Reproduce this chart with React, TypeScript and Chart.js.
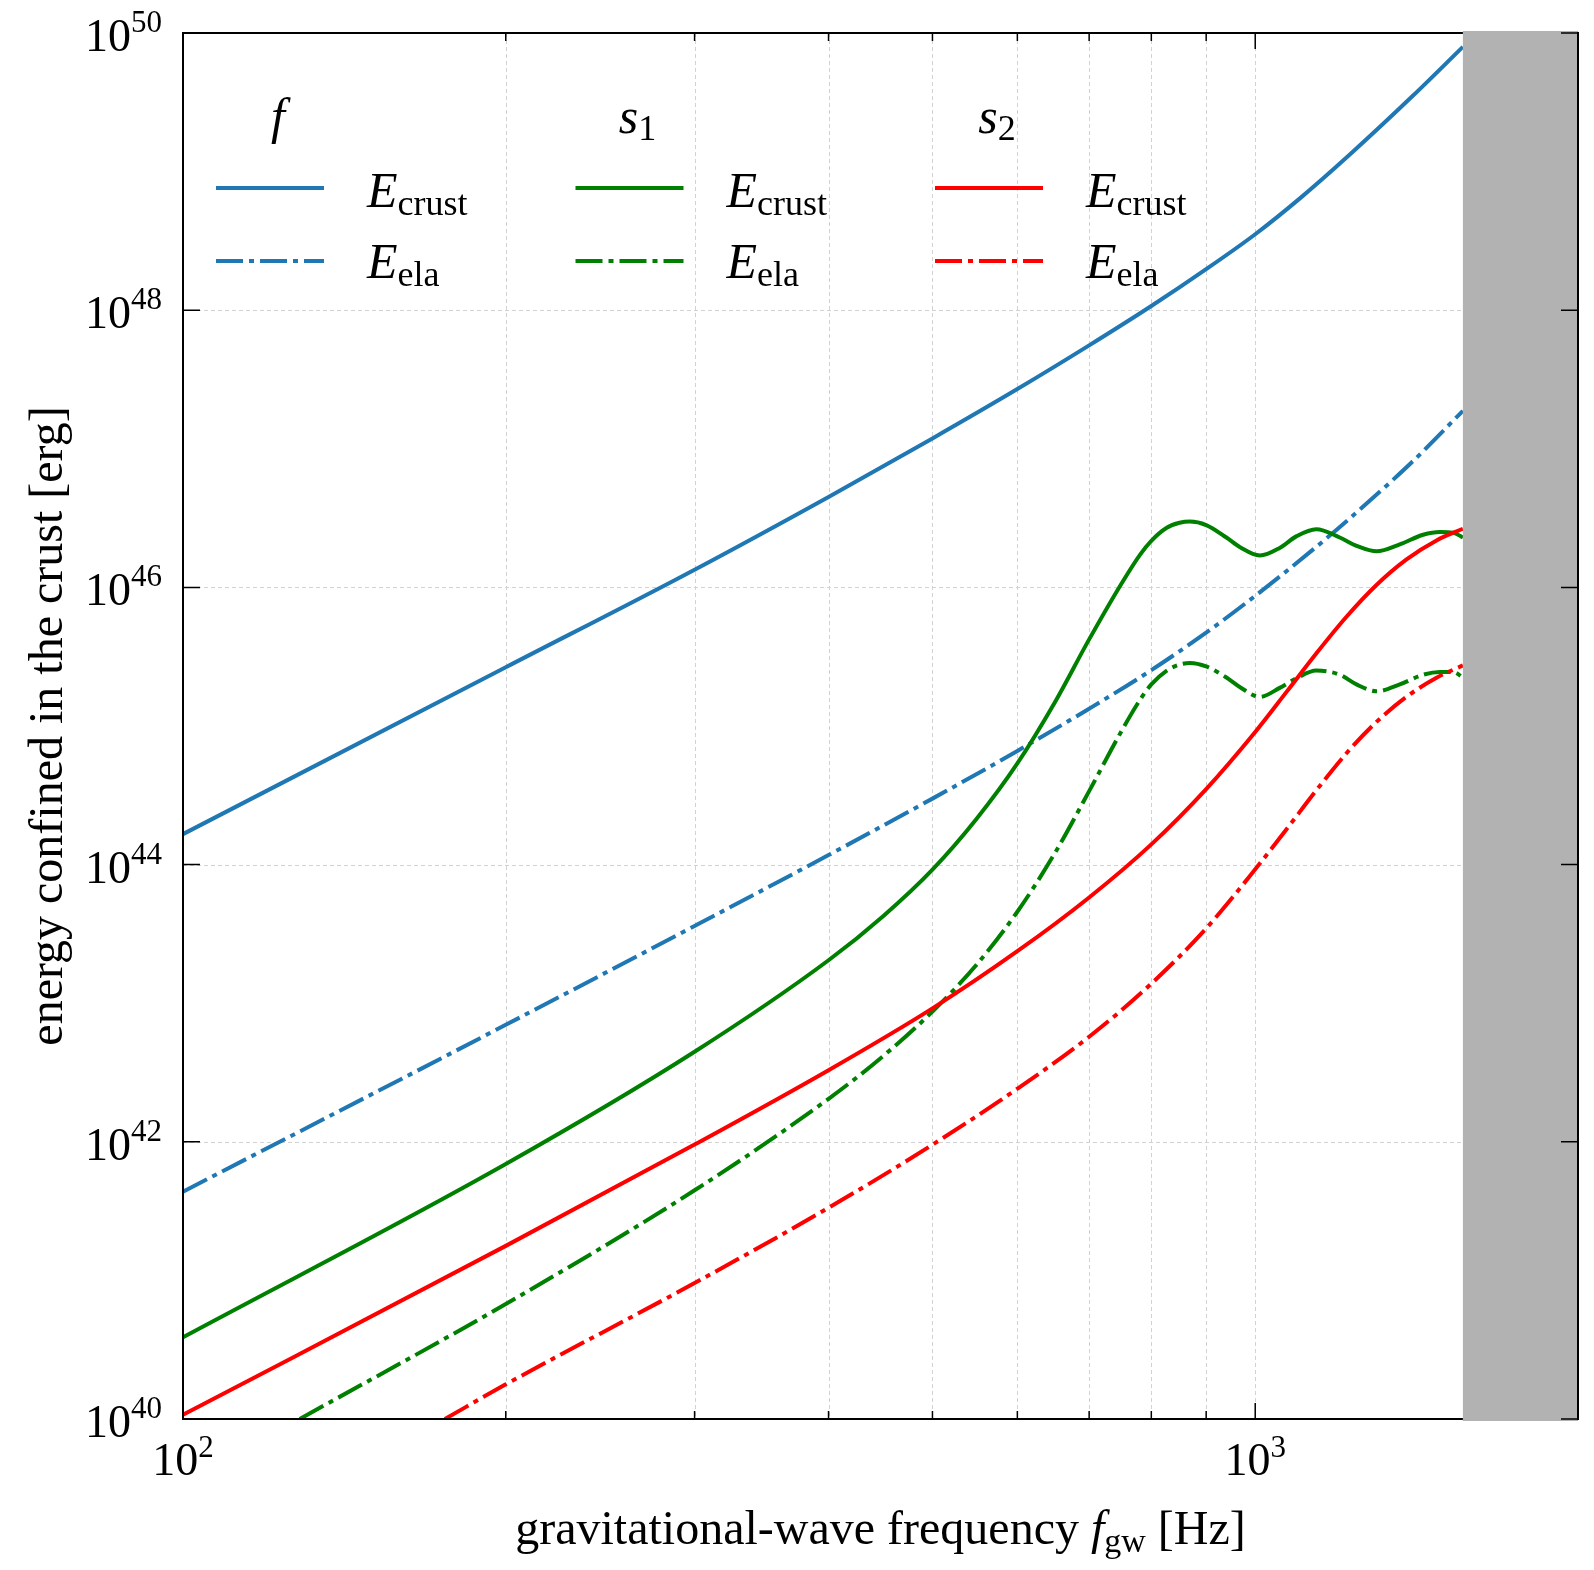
import React, { useEffect, useRef } from "react";
import { Chart, registerables } from "chart.js";

Chart.register(...registerables);

const SERIF = '"Liberation Serif", "DejaVu Serif", serif';

// Axis ranges
const xMin = 100;
const xMax = 2000;
const yMinExp = 40;
const yMaxExp = 50;
const grayStartFreq = 1562;

// Ticks / grid
const xGridFreqs = [100, 200, 300, 400, 500, 600, 700, 800, 900, 1000, 2000];
const xMajorFreqs = [100, 1000];
const xLabelExps = [2, 3];
const yTickExps = [40, 42, 44, 46, 48, 50];

// f-mode (log10 of energy in erg)
const fCrustFreq = [100, 200, 300, 400, 500, 600, 700, 800, 900, 1000, 1100, 1226, 1402, 1562];
const fCrustLogE = [44.22, 45.424, 46.128, 46.653, 47.075, 47.431, 47.746, 48.03, 48.296, 48.548, 48.805, 49.125, 49.545, 49.9];
const fElaFreq = [100, 200, 300, 400, 500, 600, 700, 800, 900, 1000, 1140, 1226, 1335, 1402, 1562];
const fElaLogE = [41.64, 42.844, 43.557, 44.069, 44.476, 44.82, 45.125, 45.403, 45.674, 45.939, 46.292, 46.5, 46.755, 46.908, 47.274];

// s1-mode
const s1CrustFreq = [100, 200, 300, 400, 450, 500, 550, 600, 650, 700, 750, 781, 800, 827, 850, 869, 900, 940, 968, 1010, 1054, 1093, 1140, 1199, 1243, 1298, 1364, 1434, 1487, 1530, 1562];
const s1CrustLogE = [40.59, 41.84, 42.65, 43.31, 43.63, 43.964, 44.333, 44.73, 45.168, 45.625, 46.025, 46.237, 46.336, 46.43, 46.466, 46.475, 46.45, 46.36, 46.29, 46.23, 46.285, 46.37, 46.42, 46.36, 46.3, 46.26, 46.31, 46.38, 46.4, 46.395, 46.36];
const s1ElaFreq = [128.5, 200, 300, 400, 450, 500, 550, 600, 650, 700, 750, 781, 800, 827, 850, 869, 900, 940, 968, 1010, 1054, 1093, 1140, 1199, 1243, 1298, 1364, 1434, 1487, 1530, 1562];
const s1ElaLogE = [40.0, 40.83, 41.65, 42.31, 42.62, 42.94, 43.28, 43.66, 44.08, 44.53, 44.96, 45.19, 45.3, 45.4, 45.443, 45.455, 45.43, 45.35, 45.28, 45.21, 45.275, 45.345, 45.4, 45.37, 45.3, 45.25, 45.3, 45.37, 45.39, 45.39, 45.35];

// s2-mode
const s2CrustFreq = [100, 200, 300, 400, 500, 600, 700, 800, 900, 1000, 1070, 1140, 1217, 1296, 1384, 1476, 1562];
const s2CrustLogE = [40.03, 41.249, 41.98, 42.517, 42.963, 43.375, 43.763, 44.146, 44.545, 44.957, 45.248, 45.523, 45.79, 46.014, 46.202, 46.339, 46.423];
const s2ElaFreq = [175.5, 200, 300, 400, 500, 600, 700, 800, 900, 1000, 1070, 1140, 1217, 1296, 1384, 1476, 1562];
const s2ElaLogE = [40.0, 40.25, 40.981, 41.524, 41.979, 42.383, 42.758, 43.141, 43.54, 43.966, 44.257, 44.535, 44.805, 45.026, 45.211, 45.348, 45.437];

// Legend text
const legendGroups = [
  { title: "f", sub: "" },
  { title: "s", sub: "1" },
  { title: "s", sub: "2" },
];
const legendRows = ["crust", "ela"];

const BLUE = "#1f77b4";
const GREEN = "#008000";
const RED = "#ff0000";
const GRAY = "#b2b2b2";
const GRID = "#d2d2d2";
const DASH = [27, 6, 5, 6];
const LINE_W = 4;
const groupColors = [BLUE, GREEN, RED];

type Part = { t: string; font: string; dy: number };

function drawParts(ctx: CanvasRenderingContext2D, parts: Part[], x: number, y: number, align: "left" | "center" | "right") {
  let total = 0;
  const widths = parts.map((p) => {
    ctx.font = p.font;
    const w = ctx.measureText(p.t).width;
    total += w;
    return w;
  });
  let cx = align === "left" ? x : align === "center" ? x - total / 2 : x - total;
  ctx.textAlign = "left";
  ctx.textBaseline = "alphabetic";
  parts.forEach((p, i) => {
    ctx.font = p.font;
    ctx.fillText(p.t, cx, y + p.dy);
    cx += widths[i];
  });
}

const decorPlugin = {
  id: "decor",
  beforeDatasetsDraw(chart: any) {
    const { ctx, chartArea: a } = chart;
    const xs = chart.scales.x;
    const ys = chart.scales.y;
    ctx.save();
    ctx.strokeStyle = GRID;
    ctx.lineWidth = 1;
    ctx.setLineDash([4, 3]);
    for (const f of xGridFreqs) {
      const px = Math.round(xs.getPixelForValue(f)) + 0.5;
      ctx.beginPath();
      ctx.moveTo(px, a.top);
      ctx.lineTo(px, a.bottom);
      ctx.stroke();
    }
    for (const e of yTickExps) {
      const py = Math.round(ys.getPixelForValue(Math.pow(10, e))) + 0.5;
      ctx.beginPath();
      ctx.moveTo(a.left, py);
      ctx.lineTo(a.right, py);
      ctx.stroke();
    }
    ctx.restore();
  },
  afterDatasetsDraw(chart: any) {
    const { ctx, chartArea: a } = chart;
    const xs = chart.scales.x;
    const ys = chart.scales.y;
    const gx = xs.getPixelForValue(grayStartFreq);
    ctx.save();
    ctx.setLineDash([]);

    // excluded region
    ctx.fillStyle = GRAY;
    ctx.fillRect(gx, a.top - 2, a.right - gx, a.bottom - a.top + 4);

    // frame
    ctx.strokeStyle = "#000";
    ctx.lineWidth = 2;
    ctx.beginPath();
    ctx.moveTo(gx, a.top);
    ctx.lineTo(a.left, a.top);
    ctx.lineTo(a.left, a.bottom);
    ctx.lineTo(gx, a.bottom);
    ctx.moveTo(a.right, a.top - 1);
    ctx.lineTo(a.right, a.bottom + 1);
    ctx.stroke();

    // ticks
    ctx.lineWidth = 1.5;
    ctx.beginPath();
    for (const f of xGridFreqs) {
      const px = xs.getPixelForValue(f);
      const len = xMajorFreqs.includes(f) ? 16 : 8;
      ctx.moveTo(px, a.bottom);
      ctx.lineTo(px, a.bottom - len);
      ctx.moveTo(px, a.top);
      ctx.lineTo(px, a.top + len);
    }
    for (const e of yTickExps) {
      const py = ys.getPixelForValue(Math.pow(10, e));
      ctx.moveTo(a.left, py);
      ctx.lineTo(a.left + 17, py);
      ctx.moveTo(a.right, py);
      ctx.lineTo(a.right - 17, py);
    }
    ctx.stroke();

    // tick labels
    ctx.fillStyle = "#000";
    const baseFont = `46px ${SERIF}`;
    const expFont = `31px ${SERIF}`;
    for (const e of yTickExps) {
      const py = ys.getPixelForValue(Math.pow(10, e));
      drawParts(
        ctx,
        [
          { t: "10", font: baseFont, dy: 18 },
          { t: String(e), font: expFont, dy: -1 },
        ],
        a.left - 21,
        py,
        "right"
      );
    }
    for (const e of xLabelExps) {
      const px = xs.getPixelForValue(Math.pow(10, e));
      drawParts(
        ctx,
        [
          { t: "10", font: baseFont, dy: 56 },
          { t: String(e), font: expFont, dy: 38 },
        ],
        px,
        a.bottom,
        "center"
      );
    }

    // axis titles
    const titleFont = `48px ${SERIF}`;
    const titleItalic = `italic 48px ${SERIF}`;
    const titleSub = `34px ${SERIF}`;
    drawParts(
      ctx,
      [
        { t: "gravitational-wave frequency ", font: titleFont, dy: 0 },
        { t: "f", font: titleItalic, dy: 0 },
        { t: "gw", font: titleSub, dy: 8 },
        { t: " [Hz]", font: titleFont, dy: 0 },
      ],
      (a.left + a.right) / 2,
      1544,
      "center"
    );
    ctx.save();
    ctx.translate(62, (a.top + a.bottom) / 2);
    ctx.rotate(-Math.PI / 2);
    drawParts(ctx, [{ t: "energy confined in the crust [erg]", font: titleFont, dy: 0 }], 0, 0, "center");
    ctx.restore();

    // legend
    const x0 = 216;
    const dx = 359.5;
    const lineLen = 108;
    const textGap = 43;
    const titleBase = 133;
    const rowLineY = [188, 261];
    const rowTextBase = [207, 278];
    const eFont = `italic 50px ${SERIF}`;
    const subFont = `36px ${SERIF}`;
    legendGroups.forEach((g, i) => {
      const lx = x0 + i * dx;
      const parts: Part[] = [{ t: g.title, font: eFont, dy: 0 }];
      if (g.sub) parts.push({ t: g.sub, font: subFont, dy: 7 });
      ctx.fillStyle = "#000";
      drawParts(ctx, parts, lx + lineLen / 2 + 8, titleBase, "center");
      legendRows.forEach((r, j) => {
        ctx.strokeStyle = groupColors[i];
        ctx.lineWidth = LINE_W;
        ctx.lineCap = "butt";
        ctx.setLineDash(j === 1 ? DASH : []);
        ctx.beginPath();
        ctx.moveTo(lx, rowLineY[j]);
        ctx.lineTo(lx + lineLen, rowLineY[j]);
        ctx.stroke();
        ctx.setLineDash([]);
        ctx.fillStyle = "#000";
        drawParts(
          ctx,
          [
            { t: "E", font: eFont, dy: 0 },
            { t: r, font: subFont, dy: 8 },
          ],
          lx + lineLen + textGap,
          rowTextBase[j],
          "left"
        );
      });
    });
    ctx.restore();
  },
};

function mk(freq: number[], logE: number[]) {
  return freq.map((f, i) => ({ x: f, y: Math.pow(10, logE[i]) }));
}

function ds(label: string, freq: number[], logE: number[], color: string, dashed: boolean) {
  return {
    label,
    data: mk(freq, logE),
    borderColor: color,
    backgroundColor: color,
    borderWidth: LINE_W,
    borderDash: dashed ? DASH : [],
    borderCapStyle: "butt",
    borderJoinStyle: "round",
    pointRadius: 0,
    pointHoverRadius: 0,
    fill: false,
    cubicInterpolationMode: "monotone",
  };
}

export default function App() {
  const ref = useRef<HTMLCanvasElement>(null);
  useEffect(() => {
    const canvas = ref.current;
    if (!canvas) return;
    const chart = new Chart(canvas, {
      type: "line",
      data: {
        datasets: [
          ds("s2 E_ela", s2ElaFreq, s2ElaLogE, RED, true),
          ds("s2 E_crust", s2CrustFreq, s2CrustLogE, RED, false),
          ds("s1 E_ela", s1ElaFreq, s1ElaLogE, GREEN, true),
          ds("s1 E_crust", s1CrustFreq, s1CrustLogE, GREEN, false),
          ds("f E_ela", fElaFreq, fElaLogE, BLUE, true),
          ds("f E_crust", fCrustFreq, fCrustLogE, BLUE, false),
        ] as any,
      },
      options: {
        responsive: false,
        animation: false,
        devicePixelRatio: 1,
        events: [],
        layout: { padding: { top: 33, right: 16, left: 0, bottom: 0 } },
        plugins: {
          legend: { display: false },
          tooltip: { enabled: false },
          title: { display: false },
        },
        scales: {
          x: {
            type: "logarithmic",
            min: xMin,
            max: xMax,
            grid: { display: false },
            border: { display: false },
            ticks: { display: false },
            afterBuildTicks: (s: any) => {
              s.ticks = xGridFreqs.map((v) => ({ value: v }));
            },
            afterFit: (s: any) => {
              s.height = 151;
            },
          },
          y: {
            type: "logarithmic",
            min: Math.pow(10, yMinExp),
            max: Math.pow(10, yMaxExp),
            grid: { display: false },
            border: { display: false },
            ticks: { display: false },
            afterBuildTicks: (s: any) => {
              s.ticks = yTickExps.map((e) => ({ value: Math.pow(10, e) }));
            },
            afterFit: (s: any) => {
              s.width = 183;
            },
          },
        },
      } as any,
      plugins: [decorPlugin],
    });
    return () => chart.destroy();
  }, []);
  return (
    <div style={{ position: "absolute", left: 0, top: 0, width: 1594, height: 1570, background: "#fff" }}>
      <canvas ref={ref} width={1594} height={1570} style={{ display: "block" }} />
    </div>
  );
}
